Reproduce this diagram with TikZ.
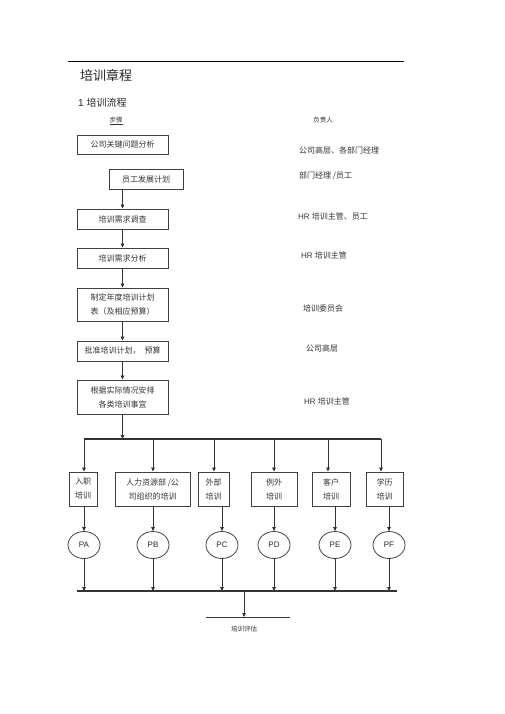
\documentclass[tikz,border=0pt]{standalone}
\usepackage{fontspec}
\setmainfont{Liberation Sans}
\newfontfamily\cjk{Noto Sans CJK SC}
\usetikzlibrary{arrows.meta,shapes.geometric}
\tikzset{
>={Triangle[length=4pt,width=3.6pt]},
flowbox/.style={draw=black!75, line width=0.9pt, inner sep=0pt, text=black!80,
  minimum width=91pt, minimum height=20pt, align=center,
  font=\cjk\fontsize{8}{14}\selectfont},
kindbox/.style={flowbox, minimum height=34pt},
plan/.style={ellipse, draw=black!75, line width=0.8pt, inner sep=0pt,
  minimum width=32pt, minimum height=27pt, text=black!85, font=\fontsize{8}{10}\selectfont},
owner/.style={anchor=west, inner sep=0pt, text=black!80, font=\cjk\fontsize{8}{10}\selectfont},
link/.style={->, draw=black!80, line width=0.8pt},
bus/.style={draw=black!80, line width=1.2pt},
}

\begin{document}
\begin{tikzpicture}[x=1pt,y=-1pt]
    \useasboundingbox (0,0) rectangle (505,714);

    % header
    \coordinate (rulel) at (68,61);
    \coordinate (ruler) at (404,61);
    \draw[line width=0.9pt] (rulel) -- (ruler);
    \node[anchor=west, inner sep=0pt, font=\cjk\fontsize{13}{15}\selectfont, text=black!85] (title) at (80,75) {培训章程};
    \node[anchor=west, inner sep=0pt, font=\fontsize{10}{12}\selectfont, text=black!85] (sub) at (78,103) {1 {\cjk 培训流程}};
    \node[inner sep=0pt, font=\cjk\fontsize{6.5}{8}\selectfont, text=black!80] (steps) at (116,121) {\underline{步骤}};
    \node[inner sep=0pt, font=\cjk\fontsize{6.5}{8}\selectfont, text=black!80] (who) at (323,120) {负责人};

    % main steps
    \node[flowbox, minimum height=19pt] (analyse) at (122.5,144.5) {公司关键问题分析};
    \node[flowbox, minimum width=74pt] (develop) at (146,179) {员工发展计划};
    \node[flowbox] (survey) at (122.5,219) {培训需求调查};
    \node[flowbox] (needs) at (122.5,258) {培训需求分析};
    \node[flowbox, minimum height=33pt] (annual) at (122.5,304.5) {制定年度培训计划\\表（及相应预算）};
    \node[flowbox] (approve) at (122.5,351) {批准培训计划，\enspace 预算};
    \node[flowbox, minimum height=34pt] (arrange) at (122.5,397) {根据实际情况安排\\各类培训事宜};

    \draw[link] (develop.south -| survey.north) -- (survey.north);
    \draw[link] (survey) -- (needs);
    \draw[link] (needs) -- (annual);
    \draw[link] (annual) -- (approve);
    \draw[link] (approve) -- (arrange);

    % owners
    \node[owner] (o1) at (299,150) {公司高层、各部门经理};
    \node[owner] (o2) at (299,176) {部门经理 /员工};
    \node[owner] (o3) at (298,216) {\rmfamily HR {\cjk 培训主管、员工}};
    \node[owner] (o4) at (301,255) {\rmfamily HR {\cjk 培训主管}};
    \node[owner] (o5) at (303,308) {培训委员会};
    \node[owner] (o6) at (306,348) {公司高层};
    \node[owner] (o7) at (304,401) {\rmfamily HR {\cjk 培训主管}};

    % kinds of training
    \coordinate (split) at (122.5,439);
    \coordinate (busl) at (84,439);
    \coordinate (busr) at (381,439);
    \draw[link] (arrange) -- (split);
    \draw[bus] (busl) -- (busr);

    \node[kindbox, minimum width=28pt] (ka) at (83,489) {入职\\培训};
    \node[kindbox, minimum width=75pt] (kb) at (152.5,489) {人力资源部 /公\\司组织的培训};
    \node[kindbox, minimum width=31pt] (kc) at (213.5,489) {外部\\培训};
    \node[kindbox, minimum width=46pt] (kd) at (274,489) {例外\\培训};
    \node[kindbox, minimum width=38pt] (ke) at (331,489) {客户\\培训};
    \node[kindbox, minimum width=37pt] (kf) at (384.5,489) {学历\\培训};

    \node[plan] (pa) at (84,545) {PA};
    \node[plan] (pb) at (153,545) {PB};
    \node[plan] (pc) at (222,545) {PC};
    \node[plan] (pd) at (274,545) {PD};
    \node[plan] (pe) at (335,545) {PE};
    \node[plan] (pf) at (389,545) {PF};

    \coordinate (lowl) at (77,591);
    \coordinate (lowr) at (397,591);
    \draw[bus] (lowl) -- (lowr);

    \foreach \x/\k/\p in {84/ka/pa, 153/kb/pb, 214/kc/pc, 274/kd/pd, 328/ke/pe, 381/kf/pf}{
        \draw[link] (busl -| \x,0) -- (\k.north -| \x,0);
        \draw[link] (\k.south -| \p.north) -- (\p.north);
        \draw[link] (\p) -- (\p |- lowl);
    }

    % evaluation
    \coordinate (join) at (244,591);
    \coordinate (evall) at (206,617);
    \coordinate (evalr) at (290,617);
    \draw[link] (join) -- (join |- evall);
    \draw[draw=black!80, line width=0.8pt] (evall) -- (evalr);
    \node[inner sep=0pt, font=\cjk\fontsize{6.5}{8}\selectfont, text=black!80] (eval) at (244,629) {培训评估};
\end{tikzpicture}
\end{document}
